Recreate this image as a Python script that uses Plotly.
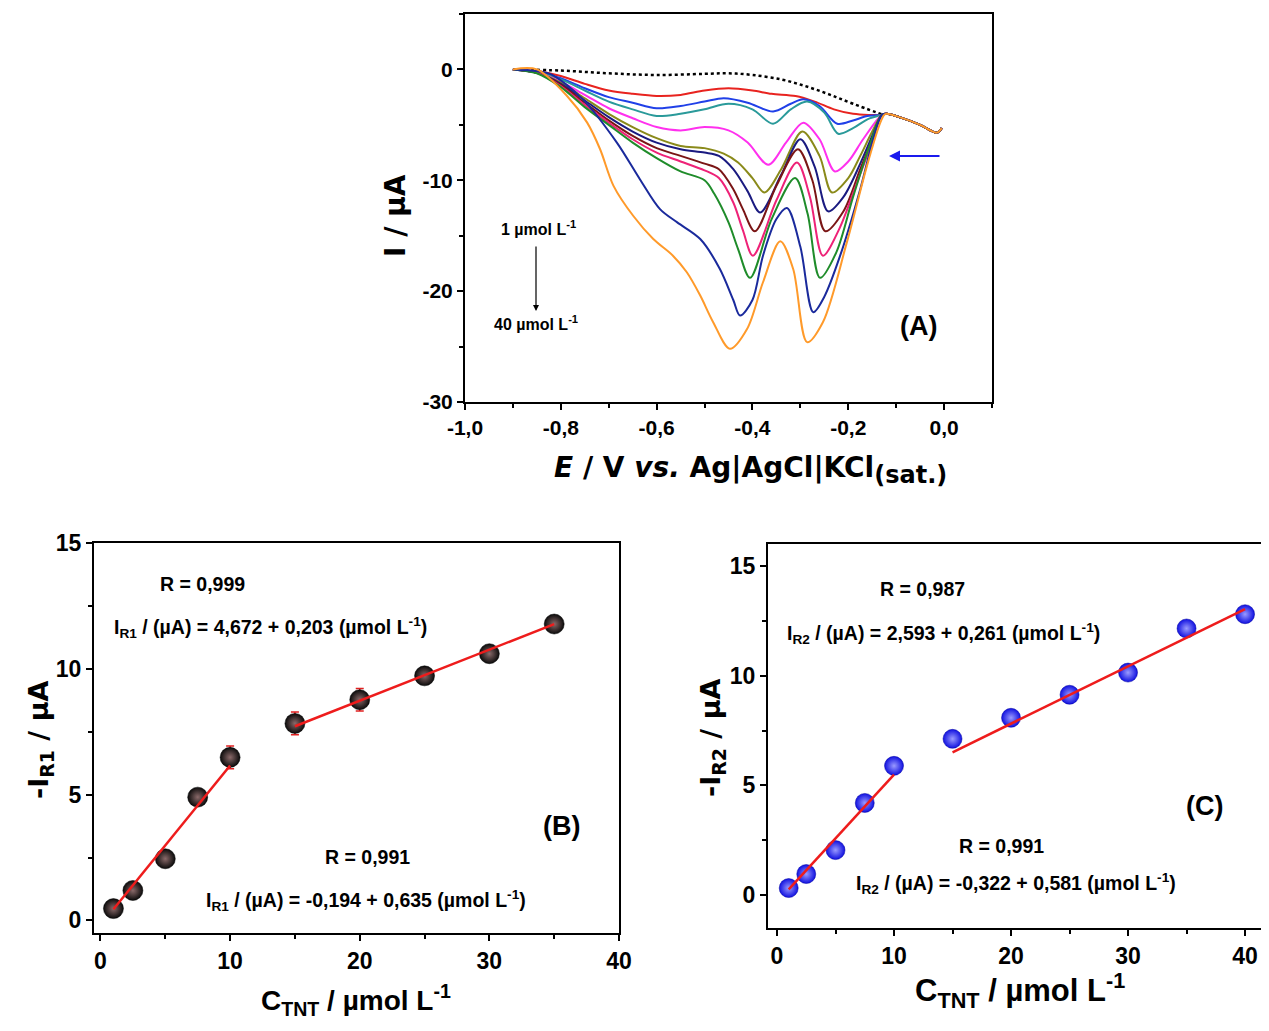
import plotly.graph_objects as go

# ---------------- Panel A data: voltammograms ----------------
CONC_LABELS = ["1", "2.5", "5", "7.5", "10", "15", "20", "25", "30", "35", "40"]
CURVE_COLORS = ["#e8231f", "#2040e8", "#2a9a9a", "#ff30ee", "#8a8a1a", "#1a1a80",
                "#7a1515", "#ee2277", "#1f8c2a", "#1a2a9c", "#ff9a2a"]

TAIL_E = [-0.12, -0.09, -0.05, -0.015, -0.005]
TAIL_I = [-4.0, -4.35, -5.0, -5.7, -5.3]

BLANK_E = [-0.90, -0.80, -0.70, -0.60, -0.50, -0.45, -0.40, -0.34, -0.29, -0.24, -0.19, -0.13]
BLANK_I = [0, -0.1, -0.35, -0.5, -0.4, -0.35, -0.5, -0.9, -1.5, -2.25, -3.1, -4.05]

E_1 = [-0.90, -0.85, -0.80, -0.75, -0.70, -0.65, -0.60, -0.55, -0.50, -0.45, -0.40, -0.36, -0.31, -0.27, -0.23, -0.19, -0.13]
I_1 = [0, -0.15, -0.6, -1.3, -1.9, -2.2, -2.4, -2.3, -1.9, -1.7, -1.9, -2.2, -2.4, -2.9, -3.6, -4.0, -4.1]

E_2 = [-0.90, -0.85, -0.80, -0.75, -0.70, -0.65, -0.60, -0.55, -0.50, -0.46, -0.41, -0.357, -0.32, -0.294, -0.26, -0.223, -0.19, -0.16, -0.13]
I_2 = [0, -0.2, -0.8, -1.7, -2.5, -3.0, -3.5, -3.3, -2.9, -2.6, -3.0, -3.8, -3.1, -2.7, -3.3, -4.9, -4.6, -4.2, -4.1]

E_3 = [-0.90, -0.85, -0.80, -0.75, -0.70, -0.65, -0.60, -0.55, -0.50, -0.45, -0.40, -0.357, -0.32, -0.286, -0.25, -0.221, -0.19, -0.16, -0.13]
I_3 = [0, -0.25, -0.9, -1.9, -2.9, -3.6, -4.2, -4.0, -3.6, -3.1, -3.6, -4.9, -3.6, -2.9, -3.9, -5.8, -5.3, -4.5, -4.1]

E_4 = [-0.90, -0.85, -0.80, -0.75, -0.70, -0.65, -0.60, -0.55, -0.50, -0.45, -0.41, -0.367, -0.33, -0.294, -0.26, -0.228, -0.20, -0.169, -0.13]
I_4 = [0, -0.3, -1.1, -2.3, -3.5, -4.4, -5.2, -5.5, -5.2, -5.5, -6.6, -8.6, -6.6, -4.8, -6.3, -9.2, -8.3, -6.3, -4.1]

E_5 = [-0.90, -0.85, -0.80, -0.75, -0.70, -0.65, -0.60, -0.55, -0.50, -0.46, -0.43, -0.40, -0.375, -0.34, -0.296, -0.26, -0.234, -0.20, -0.175, -0.15, -0.13]
I_5 = [0, -0.3, -1.2, -2.6, -4.0, -5.2, -6.2, -6.9, -7.1, -7.6, -8.4, -9.8, -11.1, -9.0, -5.6, -7.8, -11.1, -9.8, -7.8, -5.6, -4.1]

E_6 = [-0.90, -0.85, -0.80, -0.75, -0.70, -0.65, -0.60, -0.55, -0.50, -0.47, -0.44, -0.41, -0.384, -0.34, -0.30, -0.27, -0.242, -0.21, -0.175, -0.15, -0.13]
I_6 = [0, -0.3, -1.3, -2.8, -4.3, -5.6, -6.6, -7.2, -7.5, -7.8, -9.0, -11.0, -12.9, -9.5, -6.3, -8.8, -12.8, -11.5, -8.5, -6.0, -4.1]

E_7 = [-0.90, -0.85, -0.80, -0.75, -0.70, -0.65, -0.60, -0.55, -0.50, -0.47, -0.44, -0.42, -0.395, -0.35, -0.305, -0.275, -0.248, -0.21, -0.175, -0.15, -0.13]
I_7 = [0, -0.3, -1.4, -3.0, -4.6, -6.0, -7.1, -7.8, -8.5, -9.0, -10.8, -12.6, -14.6, -10.5, -7.2, -10.0, -14.6, -12.8, -9.0, -6.3, -4.1]

E_8 = [-0.90, -0.85, -0.80, -0.75, -0.70, -0.65, -0.60, -0.55, -0.50, -0.47, -0.44, -0.42, -0.399, -0.35, -0.307, -0.28, -0.253, -0.22, -0.18, -0.15, -0.13]
I_8 = [0, -0.3, -1.5, -3.2, -4.8, -6.3, -7.5, -8.3, -9.1, -9.8, -12.0, -14.5, -16.8, -11.8, -8.4, -11.5, -16.8, -14.5, -10.0, -6.5, -4.1]

E_9 = [-0.90, -0.85, -0.80, -0.75, -0.70, -0.65, -0.60, -0.55, -0.50, -0.48, -0.45, -0.43, -0.405, -0.36, -0.311, -0.285, -0.259, -0.225, -0.19, -0.155, -0.13]
I_9 = [0, -0.35, -1.6, -3.4, -5.0, -6.6, -8.0, -9.2, -10.0, -11.2, -13.8, -16.2, -18.8, -13.5, -9.8, -13.0, -18.8, -16.5, -11.5, -6.8, -4.1]

E_10 = [-0.90, -0.85, -0.82, -0.754, -0.683, -0.635, -0.593, -0.557, -0.509, -0.468, -0.44, -0.426, -0.40, -0.378, -0.35, -0.328, -0.30, -0.273, -0.25, -0.217, -0.175, -0.148, -0.13]
I_10 = [0, -0.15, -0.45, -2.7, -6.6, -9.9, -12.6, -13.8, -15.3, -18.0, -20.8, -22.2, -20.8, -16.8, -13.5, -12.5, -16.0, -21.9, -20.5, -16.8, -10.8, -6.3, -4.1]

E_11 = [-0.90, -0.85, -0.787, -0.745, -0.718, -0.69, -0.649, -0.607, -0.566, -0.537, -0.509, -0.482, -0.447, -0.411, -0.378, -0.342, -0.315, -0.286, -0.253, -0.203, -0.161, -0.134, -0.125]
I_11 = [0, 0, -2.4, -4.8, -7.2, -10.5, -13.2, -15.3, -16.8, -18.3, -20.4, -22.8, -25.2, -23.4, -19.2, -15.5, -18.0, -24.6, -22.8, -15.6, -8.7, -4.9, -4.1]

CURVES_E = [E_1, E_2, E_3, E_4, E_5, E_6, E_7, E_8, E_9, E_10, E_11]
CURVES_I = [I_1, I_2, I_3, I_4, I_5, I_6, I_7, I_8, I_9, I_10, I_11]

A_XTICKS = [-1.0, -0.8, -0.6, -0.4, -0.2, 0.0]
A_XTICKTEXT = ["-1,0", "-0,8", "-0,6", "-0,4", "-0,2", "0,0"]
A_YTICKS = [0, -10, -20, -30]
A_YTICKTEXT = ["0", "-10", "-20", "-30"]

# ---------------- Panel B data ----------------
B_CONC = [1, 2.5, 5, 7.5, 10, 15, 20, 25, 30, 35]
B_CURRENT = [0.47, 1.19, 2.45, 4.9, 6.48, 7.83, 8.77, 9.72, 10.6, 11.78]
B_ERR = [0.15, 0.15, 0.15, 0.2, 0.45, 0.45, 0.45, 0.2, 0.2, 0.2]
B_FIT_LOW = (-0.194, 0.635, 1, 10)   # intercept, slope, x-start, x-end
B_FIT_HIGH = (4.672, 0.203, 15, 35)

# ---------------- Panel C data ----------------
C_CONC = [1, 2.5, 5, 7.5, 10, 15, 20, 25, 30, 35, 40]
C_CURRENT = [0.32, 0.96, 2.05, 4.2, 5.89, 7.12, 8.08, 9.13, 10.14, 12.15, 12.8]
C_ERR = [0.15, 0.15, 0.15, 0.2, 0.2, 0.2, 0.2, 0.2, 0.2, 0.2, 0.2]
C_FIT_LOW = (-0.322, 0.581, 1, 10)
C_FIT_HIGH = (2.593, 0.261, 15, 40)

BC_XTICKS = [0, 10, 20, 30, 40]
BC_YTICKS = [0, 5, 10, 15]

W, H = 1269, 1031
OFF = 8  # page body margin of the rendered html
FONT = "Liberation Sans, Arial, sans-serif"
TITLE_FONT = "DejaVu Sans, Liberation Sans, sans-serif"
NARROW = "Liberation Sans Narrow, Arial Narrow, Liberation Sans, sans-serif"


def px(x):
    return (x - OFF) / W


def py(y):
    return 1 - (y - OFF) / H


fig = go.Figure()

# Panel A traces
fig.add_trace(go.Scatter(x=BLANK_E, y=BLANK_I, mode="lines",
                         line=dict(color="black", width=2.5, dash="dot", shape="spline"),
                         xaxis="x", yaxis="y", showlegend=False))
for lbl, col, e, i in zip(CONC_LABELS, CURVE_COLORS, CURVES_E, CURVES_I):
    fig.add_trace(go.Scatter(x=e + TAIL_E, y=i + TAIL_I, mode="lines", name=lbl,
                             line=dict(color=col, width=2, shape="spline", smoothing=0.9),
                             xaxis="x", yaxis="y", showlegend=False))

# Panel B traces
fig.add_trace(go.Scatter(x=B_CONC, y=B_CURRENT, mode="markers",
                         error_y=dict(type="data", array=B_ERR, color="#e02020", thickness=1.5, width=4),
                         marker=dict(size=20, color="#0a0a0a",
                                     gradient=dict(type="radial", color="#8a6a6a"),
                                     line=dict(color="#000", width=0.5)),
                         xaxis="x2", yaxis="y2", showlegend=False))
for a, b, x0, x1 in (B_FIT_LOW, B_FIT_HIGH):
    fig.add_trace(go.Scatter(x=[x0, x1], y=[a + b * x0, a + b * x1], mode="lines",
                             line=dict(color="#ee1c1c", width=2.5),
                             xaxis="x2", yaxis="y2", showlegend=False))

# Panel C traces
fig.add_trace(go.Scatter(x=C_CONC, y=C_CURRENT, mode="markers",
                         error_y=dict(type="data", array=C_ERR, color="#e02020", thickness=1.5, width=3),
                         marker=dict(size=19, color="#1010e0",
                                     gradient=dict(type="radial", color="#9a9aff"),
                                     line=dict(color="#0000a0", width=0.5)),
                         xaxis="x3", yaxis="y3", showlegend=False))
for a, b, x0, x1 in (C_FIT_LOW, C_FIT_HIGH):
    fig.add_trace(go.Scatter(x=[x0, x1], y=[a + b * x0, a + b * x1], mode="lines",
                             line=dict(color="#ee1c1c", width=2.5),
                             xaxis="x3", yaxis="y3", showlegend=False))


def axis(size):
    return dict(showline=True, linecolor="black", linewidth=2, mirror=True,
                ticks="outside", ticklen=6, tickwidth=2, tickcolor="black",
                showgrid=False, zeroline=False, automargin=False,
                tickfont=dict(family=FONT, size=size, color="black", weight="bold"))


def minor(d):
    return dict(dtick=d, tick0=0, ticks="outside", ticklen=4, tickwidth=2, tickcolor="black")


fig.update_layout(
    width=W, height=H, margin=dict(l=0, r=0, t=0, b=0, pad=0, autoexpand=False),
    paper_bgcolor="white", plot_bgcolor="white",
    xaxis=dict(domain=[px(465), px(992)], range=[-1.0, 0.1], anchor="y",
               tickvals=A_XTICKS, ticktext=A_XTICKTEXT, minor=minor(0.1), **axis(21)),
    yaxis=dict(domain=[py(402), py(14)], range=[-30, 5], anchor="x",
               tickvals=A_YTICKS, ticktext=A_YTICKTEXT, minor=minor(5), **axis(21)),
    xaxis2=dict(domain=[px(94), px(619)], range=[-0.5, 40], anchor="y2",
                tickvals=BC_XTICKS, minor=minor(5), **axis(23)),
    yaxis2=dict(domain=[py(933), py(543)], range=[-0.5, 15], anchor="x2",
                tickvals=BC_YTICKS, minor=minor(2.5), **axis(23)),
    xaxis3=dict(domain=[px(768), 1.0], range=[-0.77, 42.73], anchor="y3",
                tickvals=BC_XTICKS, minor=minor(5), **axis(23)),
    yaxis3=dict(domain=[py(928), py(544)], range=[-1.5, 16], anchor="x3",
                tickvals=BC_YTICKS, minor=minor(2.5), **axis(23)),
)

ann = []


def text(x, y, s, size=19.5, family=NARROW, angle=0, bold=True):
    ann.append(dict(x=px(x), y=py(y), xref="paper", yref="paper", text=s, showarrow=False,
                    textangle=angle, xanchor="center", yanchor="middle",
                    font=dict(family=family, size=size, color="black",
                              weight="bold" if bold else "normal")))


# Panel A annotations
text(395, 216, "I / µA", size=28, family=TITLE_FONT, angle=-90)
text(750, 470, "<i>E</i> / V <i>vs.</i> Ag|AgCl|KCl<sub><span style='font-size:24px'>(sat.)</span></sub>",
     size=28, family=TITLE_FONT)
text(538, 228, "1 µmol L<sup>-1</sup>", size=16)
text(536, 323, "40 µmol L<sup>-1</sup>", size=16)
text(918, 326, "(A)", size=27, family=FONT)
ann.append(dict(x=px(536), y=py(311), xref="paper", yref="paper", ax=0, ay=-66,
                showarrow=True, arrowhead=2, arrowsize=1, arrowwidth=1.2, arrowcolor="black", text=""))
ann.append(dict(x=px(889), y=py(156), xref="paper", yref="paper", ax=52, ay=0,
                showarrow=True, arrowhead=2, arrowsize=1, arrowwidth=2.2, arrowcolor="#1a1aee", text=""))

# Panel B annotations
text(40, 740, "-I<sub>R1</sub> / µA", size=27, family=TITLE_FONT, angle=-90)
text(356, 1000, "C<sub>TNT</sub> / µmol L<sup>-1</sup>", size=28, family=FONT)
text(202, 584, "R = 0,999")
text(270, 627, "I<sub>R1</sub> / (µA) = 4,672 + 0,203 (µmol L<sup>-1</sup>)")
text(367, 857, "R = 0,991")
text(366, 900, "I<sub>R1</sub> / (µA) = -0,194 + 0,635 (µmol L<sup>-1</sup>)")
text(561, 826, "(B)", size=27, family=FONT)

# Panel C annotations
text(712, 738, "-I<sub>R2</sub> / µA", size=27, family=TITLE_FONT, angle=-90)
text(1020, 990, "C<sub>TNT</sub> / µmol L<sup>-1</sup>", size=31, family=FONT)
text(922, 589, "R = 0,987")
text(944, 633, "I<sub>R2</sub> / (µA) = 2,593 + 0,261 (µmol L<sup>-1</sup>)")
text(1001, 846, "R = 0,991")
text(1016, 883, "I<sub>R2</sub> / (µA) = -0,322 + 0,581 (µmol L<sup>-1</sup>)")
text(1204, 806, "(C)", size=27, family=FONT)

fig.update_layout(annotations=ann)

fig.write_html("out.html")
